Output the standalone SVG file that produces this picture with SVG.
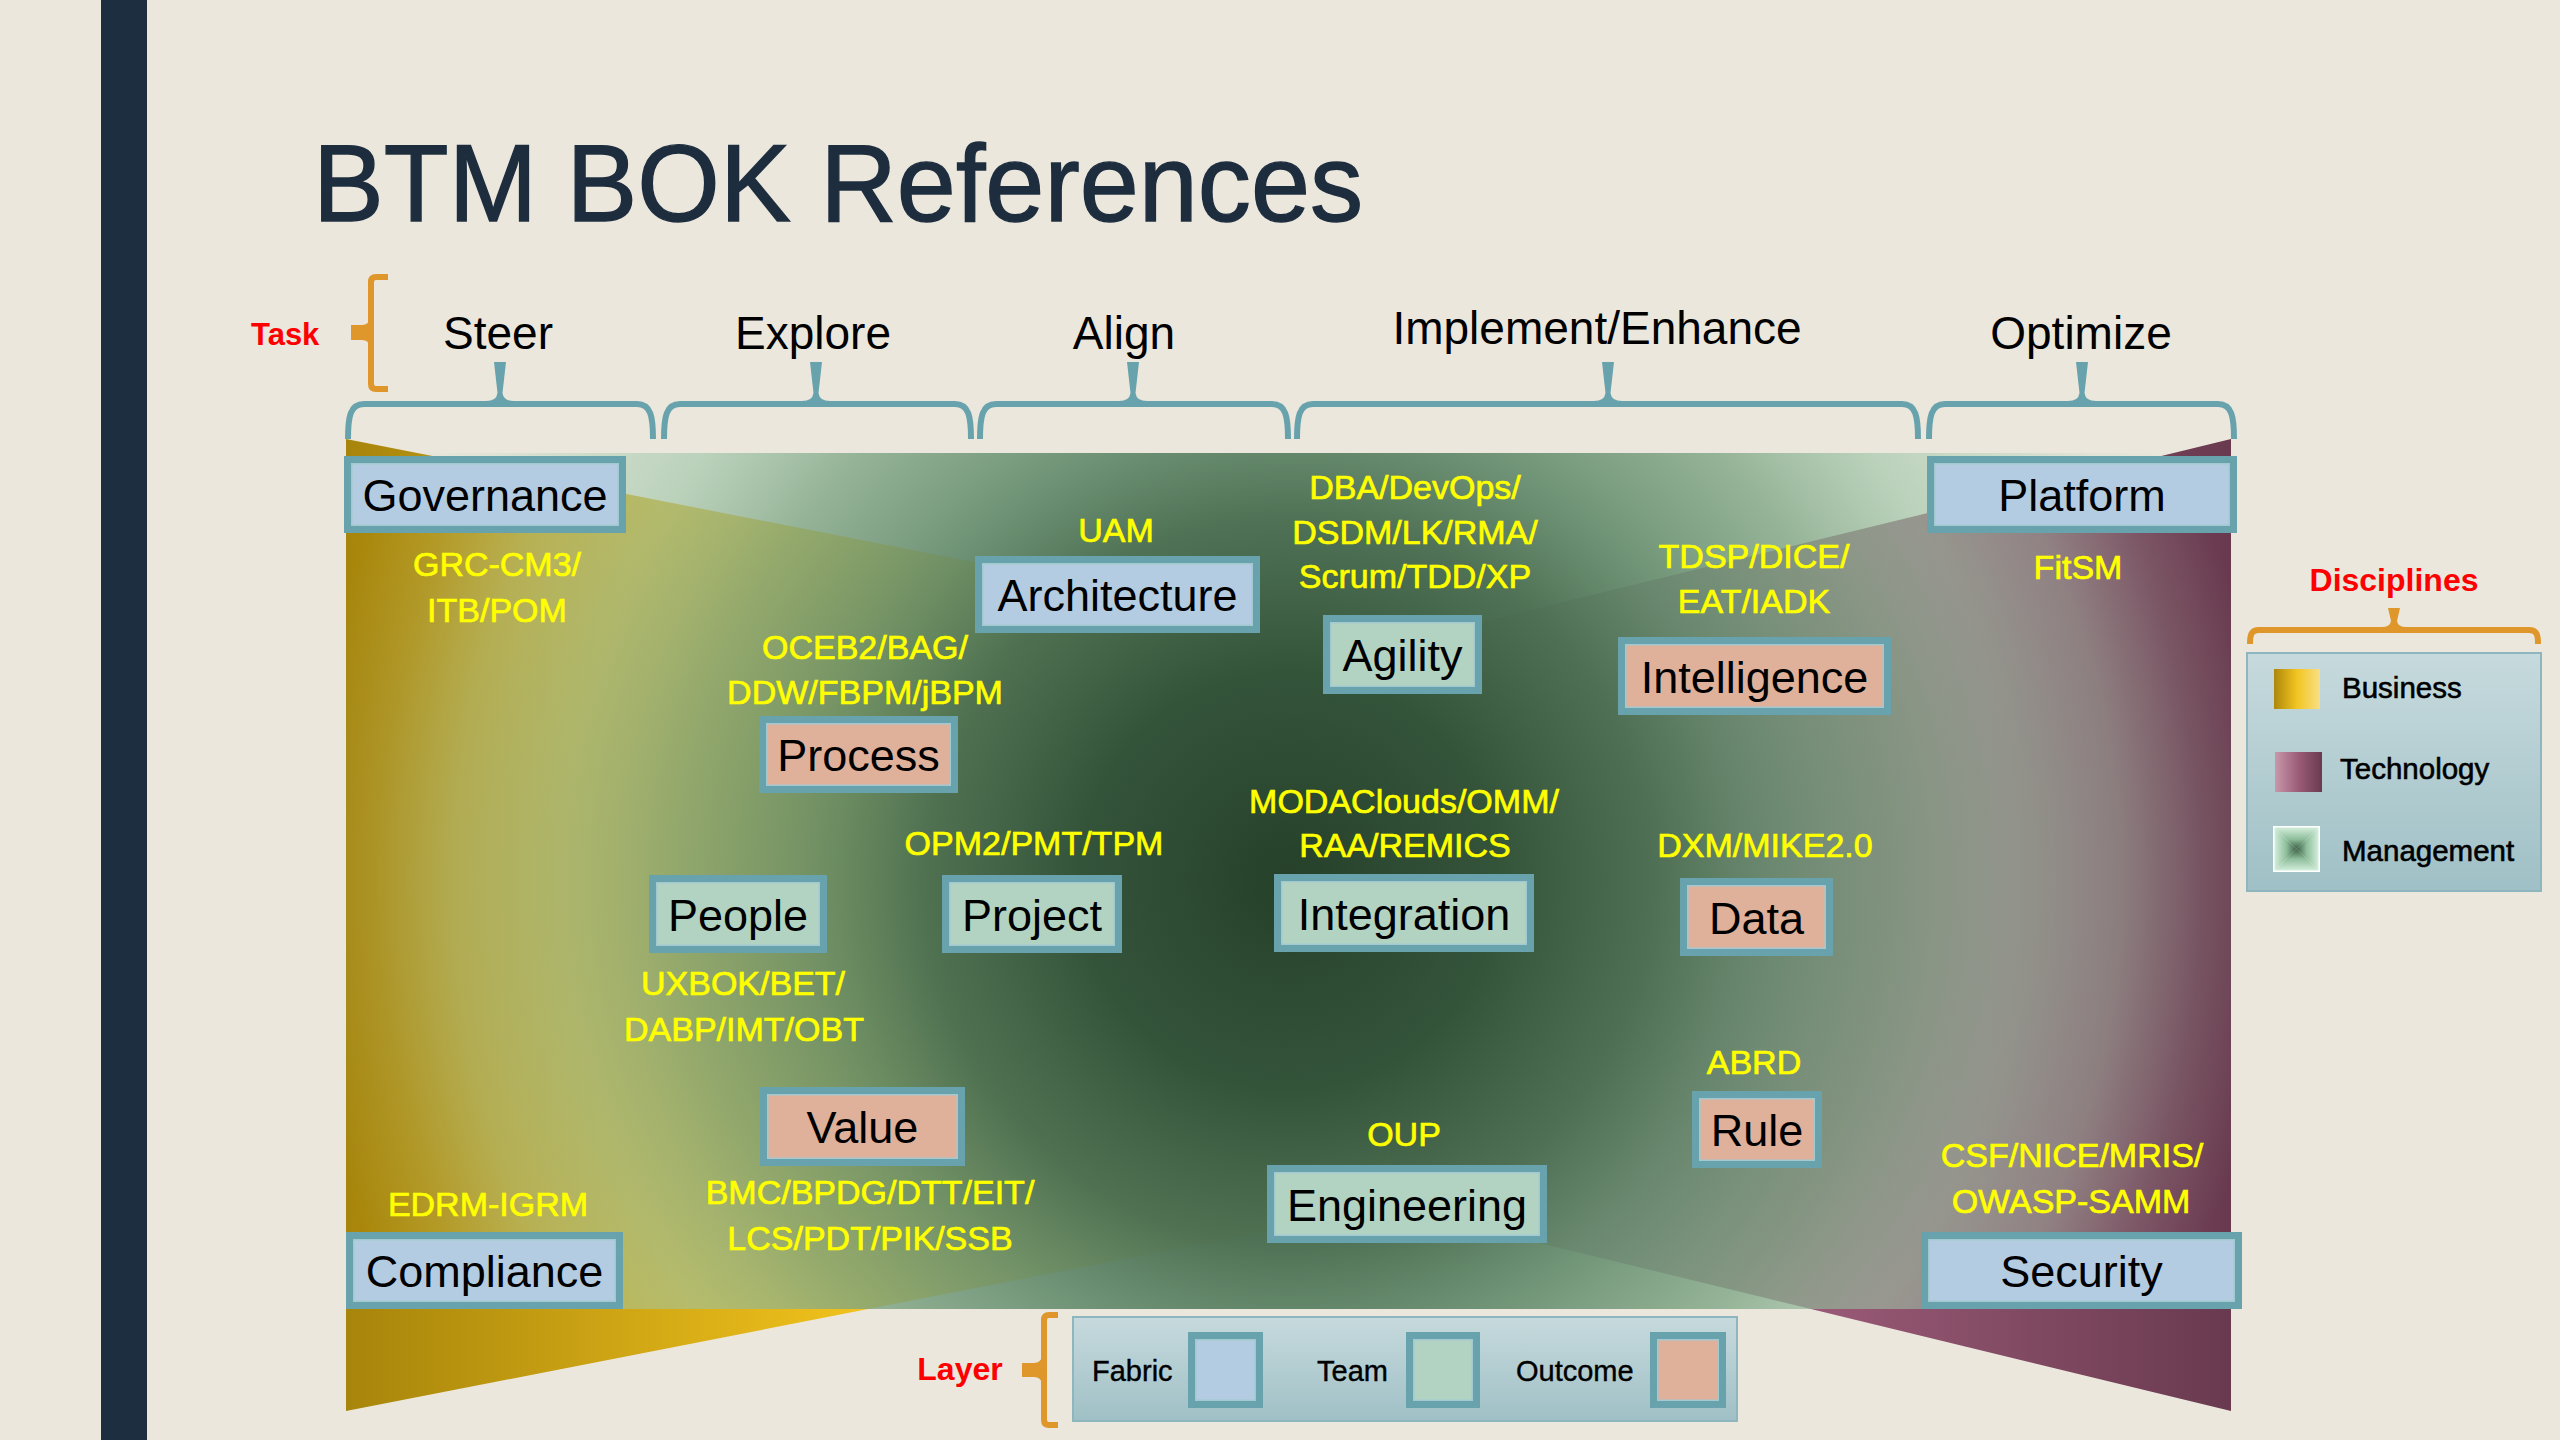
<svg xmlns="http://www.w3.org/2000/svg" width="2560" height="1440" viewBox="0 0 2560 1440">
  <defs>
    <style>
      text { font-family: "Liberation Sans", Arial, sans-serif; }
      .title { font-size: 110px; fill: #1d2d3e; stroke: #1d2d3e; stroke-width: 1.4; }
      .task { font-size: 46px; fill: #000; text-anchor: middle; }
      .red { font-weight: bold; fill: #ff0000; }
      .lbl { font-size: 45px; fill: #000; text-anchor: middle; }
      .ref { font-size: 34px; fill: #ffff00; stroke: #ffff00; stroke-width: 0.7; text-anchor: middle; }
      .leg { font-size: 29.5px; fill: #000; stroke: #000; stroke-width: 0.6; }
      .lay { font-size: 29px; fill: #000; stroke: #000; stroke-width: 0.4; }
      .frame { fill: #68a3ad; }
      .fabric { fill: #b4cce2; stroke: #a3c9d0; stroke-width: 1.5; }
      .team { fill: #b2d3c1; stroke: #a3c9d0; stroke-width: 1.5; }
      .outcome { fill: #dfb09a; stroke: #a3c9d0; stroke-width: 1.5; }
      .brace { fill: none; stroke: #68a3ad; stroke-width: 6; }
      .brace-tip { fill: #68a3ad; }
      .obr { fill: none; stroke: #df972b; stroke-width: 6; }
      .obr-tip { fill: #df972b; }
      .legbox { fill: url(#gLegend); stroke: #8db6be; stroke-width: 2; }
    </style>

    <!-- discipline fills -->
    <linearGradient id="gBiz" gradientUnits="userSpaceOnUse" x1="346" y1="0" x2="1391" y2="0">
      <stop offset="0" stop-color="#a7850b"/>
      <stop offset="0.5" stop-color="#f2c31d"/>
      <stop offset="1" stop-color="#f8e18e"/>
    </linearGradient>
    <linearGradient id="gTech" gradientUnits="userSpaceOnUse" x1="1391" y1="0" x2="2231" y2="0">
      <stop offset="0" stop-color="#caa0b0"/>
      <stop offset="0.5" stop-color="#9a5a77"/>
      <stop offset="1" stop-color="#693a4f"/>
    </linearGradient>
    <radialGradient id="gMgmt" gradientUnits="userSpaceOnUse" cx="1288" cy="881" r="1040">
      <stop offset="0" stop-color="#26402a" stop-opacity="1"/>
      <stop offset="0.2" stop-color="#34543a" stop-opacity="1"/>
      <stop offset="0.35" stop-color="#4b6f52" stop-opacity="0.97"/>
      <stop offset="0.45" stop-color="#628a6b" stop-opacity="0.9"/>
      <stop offset="0.58" stop-color="#7ca483" stop-opacity="0.78"/>
      <stop offset="0.7" stop-color="#9cc4a5" stop-opacity="0.6"/>
      <stop offset="0.8" stop-color="#a9cfb2" stop-opacity="0.42"/>
      <stop offset="0.88" stop-color="#aed2b6" stop-opacity="0.15"/>
      <stop offset="0.95" stop-color="#aed2b6" stop-opacity="0"/>
      <stop offset="1" stop-color="#aed2b6" stop-opacity="0"/>
    </radialGradient>

    <!-- legend swatches -->
    <linearGradient id="gBizS" x1="0" y1="0" x2="1" y2="0">
      <stop offset="0" stop-color="#ad870c"/>
      <stop offset="0.5" stop-color="#f2c521"/>
      <stop offset="1" stop-color="#f8df86"/>
    </linearGradient>
    <linearGradient id="gTechS" x1="0" y1="0" x2="1" y2="0">
      <stop offset="0" stop-color="#c898aa"/>
      <stop offset="0.5" stop-color="#9b5c78"/>
      <stop offset="1" stop-color="#6a3a50"/>
    </linearGradient>
    <linearGradient id="gMgS" x1="0" y1="0" x2="0" y2="1">
      <stop offset="0" stop-color="#d3eedb"/>
      <stop offset="0.55" stop-color="#8dbd9a"/>
      <stop offset="1" stop-color="#3a5e44"/>
    </linearGradient>
    <linearGradient id="gMgS-b" href="#gMgS" x1="0" y1="1" x2="0" y2="0"/>
    <linearGradient id="gMgS-l" href="#gMgS" x1="0" y1="0" x2="1" y2="0"/>
    <linearGradient id="gMgS-r" href="#gMgS" x1="1" y1="0" x2="0" y2="0"/>
    <linearGradient id="gLegend" x1="0" y1="0" x2="0" y2="1">
      <stop offset="0" stop-color="#c7dadd"/>
      <stop offset="1" stop-color="#9fc0c6"/>
    </linearGradient>
  </defs>

  <!-- slide background -->
  <rect width="2560" height="1440" fill="#ebe7dd"/>
  <rect x="101" y="0" width="46" height="1440" fill="#1c2e3f"/>

  <text class="title" x="313" y="221" textLength="1050" lengthAdjust="spacingAndGlyphs">BTM BOK References</text>

  <!-- discipline field: business, technology, management -->
  <g id="disciplines-field">
    <polygon points="346,439 1391,644 1391,1207 346,1411" fill="url(#gBiz)"/>
    <polygon points="2231,439 1391,644 1391,1207 2231,1411" fill="url(#gTech)"/>
    <rect x="346" y="453" width="1885" height="856" fill="url(#gMgmt)"/>
  </g>

  <!-- task axis -->
  <g id="task-axis">
    <text class="red" x="251" y="345" font-size="31">Task</text>
    <path class="obr" d="M388,277 H376 Q371,277 371,282 V384 Q371,389 376,389 H388"/>
    <path class="obr-tip" d="M351,325 H362 Q369,325 370,318 V347 Q369,340 362,340 H351 Z"/>

    <text class="task" x="498" y="349">Steer</text>
    <text class="task" x="813" y="349">Explore</text>
    <text class="task" x="1124" y="349">Align</text>
    <text class="task" x="1597" y="344">Implement/Enhance</text>
    <text class="task" x="2081" y="349">Optimize</text>

    <path class="brace" d="M348,439 C348,417 350,404 364,404 H637 C651,404 653,417 653,439"/>
    <path class="brace-tip" d="M494,362 H506 L502.5,393 Q503.5,401 514,401 H486 Q496.5,401 497.5,393 Z"/>
    <path class="brace" d="M664,439 C664,417 666,404 680,404 H955 C969,404 971,417 971,439"/>
    <path class="brace-tip" d="M810,362 H822 L818.5,393 Q819.5,401 830,401 H802 Q812.5,401 813.5,393 Z"/>
    <path class="brace" d="M980,439 C980,417 982,404 996,404 H1272 C1286,404 1288,417 1288,439"/>
    <path class="brace-tip" d="M1127,362 H1139 L1135.5,393 Q1136.5,401 1147,401 H1119 Q1129.5,401 1130.5,393 Z"/>
    <path class="brace" d="M1297,439 C1297,417 1299,404 1313,404 H1902 C1916,404 1918,417 1918,439"/>
    <path class="brace-tip" d="M1602,362 H1614 L1610.5,393 Q1611.5,401 1622,401 H1594 Q1604.5,401 1605.5,393 Z"/>
    <path class="brace" d="M1929,439 C1929,417 1931,404 1945,404 H2218 C2232,404 2234,417 2234,439"/>
    <path class="brace-tip" d="M2076,362 H2088 L2084.5,393 Q2085.5,401 2096,401 H2068 Q2078.5,401 2079.5,393 Z"/>
  </g>

  <!-- fabric nodes -->
  <g id="governance">
    <rect class="frame" x="344" y="456" width="282" height="77"/>
    <rect class="fabric" x="351.75" y="463.75" width="266.5" height="61.5"/>
    <text class="lbl" x="485" y="511">Governance</text>
    <text class="ref" x="497" y="576">GRC-CM3/</text>
    <text class="ref" x="497" y="622">ITB/POM</text>
  </g>
  <g id="compliance">
    <rect class="frame" x="346" y="1232" width="277" height="77"/>
    <rect class="fabric" x="353.75" y="1239.75" width="261.5" height="61.5"/>
    <text class="lbl" x="484.5" y="1287">Compliance</text>
    <text class="ref" x="488" y="1216">EDRM-IGRM</text>
  </g>
  <g id="platform">
    <rect class="frame" x="1927" y="456" width="310" height="77"/>
    <rect class="fabric" x="1934.75" y="463.75" width="294.5" height="61.5"/>
    <text class="lbl" x="2082" y="511">Platform</text>
    <text class="ref" x="2078" y="579">FitSM</text>
  </g>
  <g id="security">
    <rect class="frame" x="1921" y="1232" width="321" height="77"/>
    <rect class="fabric" x="1928.75" y="1239.75" width="305.5" height="61.5"/>
    <text class="lbl" x="2081.5" y="1287">Security</text>
    <text class="ref" x="2072" y="1167">CSF/NICE/MRIS/</text>
    <text class="ref" x="2071" y="1213">OWASP-SAMM</text>
  </g>
  <g id="architecture">
    <rect class="frame" x="975" y="556" width="285" height="77"/>
    <rect class="fabric" x="982.75" y="563.75" width="269.5" height="61.5"/>
    <text class="lbl" x="1117.5" y="611">Architecture</text>
    <text class="ref" x="1116" y="542">UAM</text>
  </g>

  <!-- team nodes -->
  <g id="agility">
    <rect class="frame" x="1323" y="615" width="159" height="79"/>
    <rect class="team" x="1330.75" y="622.75" width="143.5" height="63.5"/>
    <text class="lbl" x="1402.5" y="671">Agility</text>
    <text class="ref" x="1415" y="499">DBA/DevOps/</text>
    <text class="ref" x="1415" y="544">DSDM/LK/RMA/</text>
    <text class="ref" x="1415" y="588">Scrum/TDD/XP</text>
  </g>
  <g id="people">
    <rect class="frame" x="649" y="875" width="178" height="78"/>
    <rect class="team" x="656.75" y="882.75" width="162.5" height="62.5"/>
    <text class="lbl" x="738" y="930.5">People</text>
    <text class="ref" x="743" y="995">UXBOK/BET/</text>
    <text class="ref" x="744" y="1041">DABP/IMT/OBT</text>
  </g>
  <g id="project">
    <rect class="frame" x="942" y="875" width="180" height="78"/>
    <rect class="team" x="949.75" y="882.75" width="164.5" height="62.5"/>
    <text class="lbl" x="1032" y="930.5">Project</text>
    <text class="ref" x="1034" y="855">OPM2/PMT/TPM</text>
  </g>
  <g id="integration">
    <rect class="frame" x="1274" y="874" width="260" height="78"/>
    <rect class="team" x="1281.75" y="881.75" width="244.5" height="62.5"/>
    <text class="lbl" x="1404" y="929.5">Integration</text>
    <text class="ref" x="1404" y="813">MODAClouds/OMM/</text>
    <text class="ref" x="1405" y="857">RAA/REMICS</text>
  </g>
  <g id="engineering">
    <rect class="frame" x="1267" y="1165" width="280" height="78"/>
    <rect class="team" x="1274.75" y="1172.75" width="264.5" height="62.5"/>
    <text class="lbl" x="1407" y="1220.5">Engineering</text>
    <text class="ref" x="1404" y="1146">OUP</text>
  </g>

  <!-- outcome nodes -->
  <g id="intelligence">
    <rect class="frame" x="1618" y="637" width="273" height="78"/>
    <rect class="outcome" x="1625.75" y="644.75" width="257.5" height="62.5"/>
    <text class="lbl" x="1754.5" y="692.5">Intelligence</text>
    <text class="ref" x="1754" y="568">TDSP/DICE/</text>
    <text class="ref" x="1754" y="613">EAT/IADK</text>
  </g>
  <g id="process">
    <rect class="frame" x="759" y="716" width="199" height="77"/>
    <rect class="outcome" x="766.75" y="723.75" width="183.5" height="61.5"/>
    <text class="lbl" x="858.5" y="771">Process</text>
    <text class="ref" x="865" y="659">OCEB2/BAG/</text>
    <text class="ref" x="865" y="704">DDW/FBPM/jBPM</text>
  </g>
  <g id="data">
    <rect class="frame" x="1680" y="878" width="153" height="78"/>
    <rect class="outcome" x="1687.75" y="885.75" width="137.5" height="62.5"/>
    <text class="lbl" x="1756.5" y="933.5">Data</text>
    <text class="ref" x="1765" y="857">DXM/MIKE2.0</text>
  </g>
  <g id="value">
    <rect class="frame" x="760" y="1087" width="205" height="79"/>
    <rect class="outcome" x="767.75" y="1094.75" width="189.5" height="63.5"/>
    <text class="lbl" x="862.5" y="1143">Value</text>
    <text class="ref" x="870" y="1204">BMC/BPDG/DTT/EIT/</text>
    <text class="ref" x="870" y="1250">LCS/PDT/PIK/SSB</text>
  </g>
  <g id="rule">
    <rect class="frame" x="1692" y="1091" width="130" height="77"/>
    <rect class="outcome" x="1699.75" y="1098.75" width="114.5" height="61.5"/>
    <text class="lbl" x="1757" y="1146">Rule</text>
    <text class="ref" x="1754" y="1074">ABRD</text>
  </g>

  <!-- disciplines legend -->
  <g id="legend-disciplines">
    <text class="red" x="2394" y="591" font-size="32" text-anchor="middle">Disciplines</text>
    <path class="obr" d="M2250,644 C2250,635 2251,630 2259,630 H2529 C2537,630 2538,635 2538,644"/>
    <path class="obr-tip" d="M2388,608 H2400 L2397,621 Q2398,627 2406,627 H2382 Q2390,627 2391,621 Z"/>
    <rect class="legbox" x="2247" y="653" width="294" height="238"/>
    <rect x="2274" y="669" width="46" height="40" fill="url(#gBizS)"/>
    <text class="leg" x="2342" y="698">Business</text>
    <rect x="2275" y="752" width="47" height="40" fill="url(#gTechS)"/>
    <text class="leg" x="2340" y="779">Technology</text>
    <g id="mgmt-swatch">
      <rect x="2273" y="826" width="47" height="46" fill="#ffffff"/>
      <polygon points="2274.5,827.5 2318.5,827.5 2296.5,849" fill="url(#gMgS)"/>
      <polygon points="2274.5,870.5 2318.5,870.5 2296.5,849" fill="url(#gMgS-b)"/>
      <polygon points="2274.5,827.5 2274.5,870.5 2296.5,849" fill="url(#gMgS-l)"/>
      <polygon points="2318.5,827.5 2318.5,870.5 2296.5,849" fill="url(#gMgS-r)"/>
    </g>
    <text class="leg" x="2342" y="861">Management</text>
  </g>

  <!-- layer legend -->
  <g id="legend-layer">
    <text class="red" x="960" y="1380" font-size="32" text-anchor="middle">Layer</text>
    <path class="obr" d="M1058,1315 H1049 Q1044,1315 1044,1320 V1420 Q1044,1425 1049,1425 H1058"/>
    <path class="obr-tip" d="M1022,1363 H1034 Q1041,1363 1042,1356 V1384 Q1041,1377 1034,1377 H1022 Z"/>
    <rect class="legbox" x="1073" y="1317" width="664" height="104"/>
    <text class="lay" x="1092" y="1381">Fabric</text>
    <rect class="frame" x="1188" y="1332" width="75" height="76"/>
    <rect class="fabric" x="1195.75" y="1339.75" width="59.5" height="60.5"/>
    <text class="lay" x="1317" y="1381">Team</text>
    <rect class="frame" x="1406" y="1332" width="74" height="76"/>
    <rect class="team" x="1413.75" y="1339.75" width="58.5" height="60.5"/>
    <text class="lay" x="1516" y="1381">Outcome</text>
    <rect class="frame" x="1650" y="1332" width="76" height="76"/>
    <rect class="outcome" x="1657.75" y="1339.75" width="60.5" height="60.5"/>
  </g>
</svg>
